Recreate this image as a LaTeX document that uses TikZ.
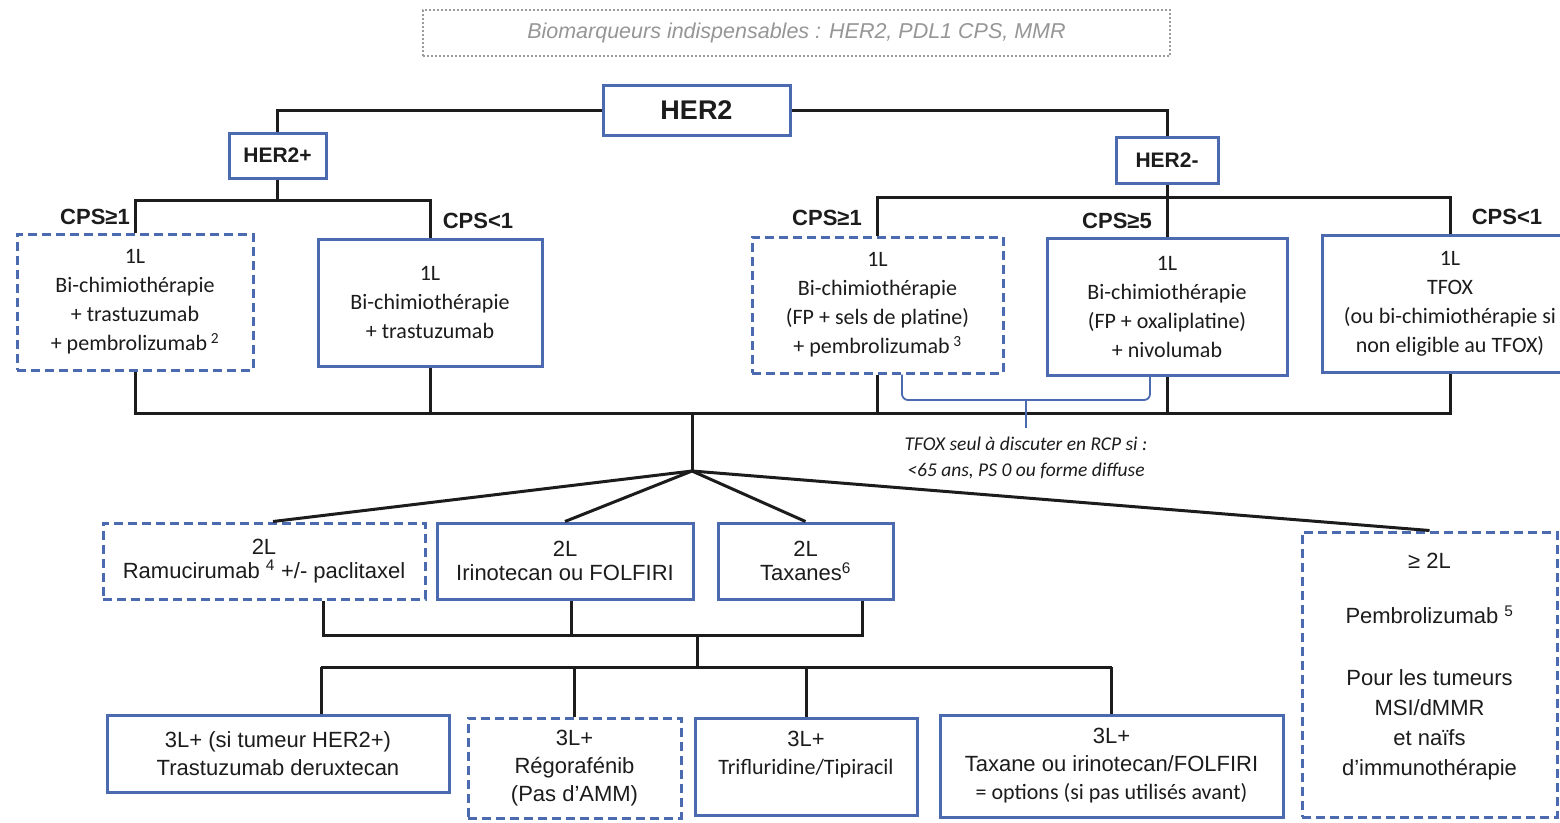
\documentclass[tikz,border=0pt]{standalone}
\usepackage{fontspec}
\setmainfont{Liberation Sans}
\newfontfamily\carl{Carlito}
\definecolor{boxblue}{RGB}{76,106,176}
\definecolor{ink}{RGB}{28,28,28}
\definecolor{greytxt}{RGB}{150,150,150}
\definecolor{greyline}{RGB}{155,155,155}
\tikzset{
  conn/.style={draw=ink, line width=3pt},
  bx/.style={draw=boxblue, line width=3pt, fill=white, inner sep=0pt, align=center, text=ink},
  dbx/.style={bx, dashed, dash pattern=on 9pt off 5pt},
  calt/.style={font=\carl\fontsize{22}{29}\selectfont},
  ariat/.style={font=\fontsize{22}{24}\selectfont},
  ariat3/.style={font=\fontsize{22}{28}\selectfont},
  lbl/.style={font=\bfseries\fontsize{22}{24}\selectfont, text=ink, inner sep=0pt},
  brace/.style={draw=boxblue, line width=1.8pt},
  note/.style={font=\carl\itshape\fontsize{19.5}{26}\selectfont, text=ink, align=center, inner sep=0pt}
}
\begin{document}
\begin{tikzpicture}[x=1pt,y=-1pt]
\useasboundingbox (0,0) rectangle (1560,822);
\clip (0,0) rectangle (1560,822);
\fill[white] (0,0) rectangle (1560,822);

% top banner
\node[draw=greyline, line width=2.4pt, dash pattern=on 2pt off 2pt, minimum width=747pt, minimum height=46pt,
      font=\itshape\fontsize{21.5}{24}\selectfont, text=greytxt, inner sep=0pt] (bio) at (796.5,33)
      {Biomarqueurs indispensables : HER2, PDL1 CPS, MMR};

% level 0/1
\node[bx, minimum width=187pt, minimum height=50pt, font=\bfseries\fontsize{27}{28}\selectfont] (her2) at (696.5,110) {HER2};
\node[bx, minimum width=97pt, minimum height=45pt, font=\bfseries\fontsize{21}{24}\selectfont] (hp) at (277.5,155.5) {HER2+};
\node[bx, minimum width=102pt, minimum height=46pt, font=\bfseries\fontsize{21}{24}\selectfont] (hm) at (1167,160) {HER2-};

% 1L boxes
\node[dbx, calt, minimum width=236pt, minimum height=136pt] (A) at (135,302)
  {1L\\Bi-chimiothérapie\\+ trastuzumab\\+ pembrolizumab\,\textsuperscript{2}};
\node[bx, calt, minimum width=224pt, minimum height=127pt] (B) at (430,302.5)
  {1L\\Bi-chimiothérapie\\+ trastuzumab};
\node[dbx, calt, minimum width=251pt, minimum height=136pt] (C) at (877.5,305)
  {1L\\Bi-chimiothérapie\\(FP + sels de platine)\\+ pembrolizumab\,\textsuperscript{3}};
\node[bx, calt, minimum width=240pt, minimum height=137pt] (D) at (1167,306.5)
  {1L\\Bi-chimiothérapie\\(FP + oxaliplatine)\\+ nivolumab};
\node[bx, calt, minimum width=256pt, minimum height=137pt] (E) at (1450,303.5)
  {1L\\TFOX\\(ou bi-chimiothérapie si\\non eligible au TFOX)};

% CPS labels
\node[lbl] (l1) at (95,217) {CPS≥1};
\node[lbl] (l2) at (478,221) {CPS<1};
\node[lbl] (l3) at (827,218) {CPS≥1};
\node[lbl] (l4) at (1117,221) {CPS≥5};
\node[lbl] (l5) at (1507,217) {CPS<1};

% 2L boxes
\node[dbx, ariat, minimum width=322pt, minimum height=76pt] (R) at (264,561)
  {2L\\Ramucirumab \textsuperscript{4} +/- paclitaxel};
\node[bx, ariat, minimum width=256pt, minimum height=76pt] (I) at (565,561)
  {2L\\Irinotecan ou FOLFIRI};
\node[bx, ariat, minimum width=175pt, minimum height=76pt] (T) at (805.5,561)
  {2L\\Taxanes\textsuperscript{6}};
\node[dbx, font=\fontsize{22}{30}\selectfont, minimum width=255pt, minimum height=285pt] (P) at (1429.5,674.5)
  {≥ 2L\\[25pt]Pembrolizumab \textsuperscript{5}\\[32pt]Pour les tumeurs\\MSI/dMMR\\et naïfs\\d'immunothérapie\\[-10pt]{}};

% 3L boxes
\node[bx, ariat3, minimum width=342pt, minimum height=77pt] (L1) at (278,753.5)
  {3L+ (si tumeur HER2+)\\Trastuzumab deruxtecan};
\node[dbx, ariat3, minimum width=213pt, minimum height=100pt] (L2) at (574.5,768)
  {3L+\\Régorafénib\\(Pas d'AMM)};
\node[bx, ariat3, minimum width=222pt, minimum height=97pt] (L3) at (806,766.5)
  {3L+\\{\carl Trifluridine/Tipiracil}\\~};
\node[bx, ariat3, minimum width=343pt, minimum height=102pt] (L4) at (1111.5,766)
  {3L+\\Taxane ou irinotecan/FOLFIRI\\{\carl = options (si pas utilisés avant)}};

% note
\node[note] (tfox) at (1026,458) {TFOX seul à discuter en RCP si :\\<65 ans, PS 0 ou forme diffuse};

% helper coordinates
\coordinate (yp) at (0,200);
\coordinate (ym) at (0,197);
\coordinate (y1) at (0,413);
\coordinate (top) at (692,413);
\coordinate (fan) at (692,471);
\coordinate (y2) at (0,635);
\coordinate (y3) at (0,667);
\coordinate (m2) at (697,635);
\coordinate (m3) at (697,667);
\coordinate (Rb) at ([xshift=59pt]R.south);
\coordinate (Ib) at ([xshift=6pt]I.south);
\coordinate (Tb) at ([xshift=57pt]T.south);
\coordinate (L1t) at ([xshift=43pt]L1.north);
\coordinate (Rt) at ([xshift=9pt]R.north);
\coordinate (bl) at (902,400);
\coordinate (br) at (1150,400);
\coordinate (bm) at (1026,400);
\coordinate (bt) at (1026,428);

% connectors
\draw[conn] (her2.west) -| (hp.north);
\draw[conn] (her2.east) -| (hm.north);
\draw[conn] (hp.south) -- (hp.south |- yp);
\draw[conn] (A.north) -- (A.north |- yp) -- (B.north |- yp) -- (B.north);
\draw[conn] (hm.south) -- (D.north);
\draw[conn] (C.north) -- (C.north |- ym) -- (E.north |- ym) -- (E.north);

\draw[conn] (A.south) -- (A.south |- y1) -- (E.south |- y1) -- (E.south);
\draw[conn] (B.south) -- (B.south |- y1);
\draw[conn] (C.south) -- (C.south |- y1);
\draw[conn] (D.south) -- (D.south |- y1);
\draw[conn] (top) -- (fan);
\draw[conn] (fan) -- (Rt);
\draw[conn] (fan) -- (I.north);
\draw[conn] (fan) -- (T.north);
\draw[conn] (fan) -- (P.north);

\draw[conn] (Rb) -- (Rb |- y2) -- (Tb |- y2) -- (Tb);
\draw[conn] (Ib) -- (Ib |- y2);
\draw[conn] (m2) -- (m3);
\draw[conn] (L1t |- y3) -- (L4.north |- y3);
\draw[conn] (L1t |- y3) -- (L1t);
\draw[conn] (L2.north |- y3) -- (L2.north);
\draw[conn] (L3.north |- y3) -- (L3.north);
\draw[conn] (L4.north |- y3) -- (L4.north);

% brace
\draw[brace, rounded corners=6pt] (C.south -| bl) -- (bl) -- (br) -- (D.south -| br);
\draw[brace] (bm) -- (bt);
\end{tikzpicture}
\end{document}
